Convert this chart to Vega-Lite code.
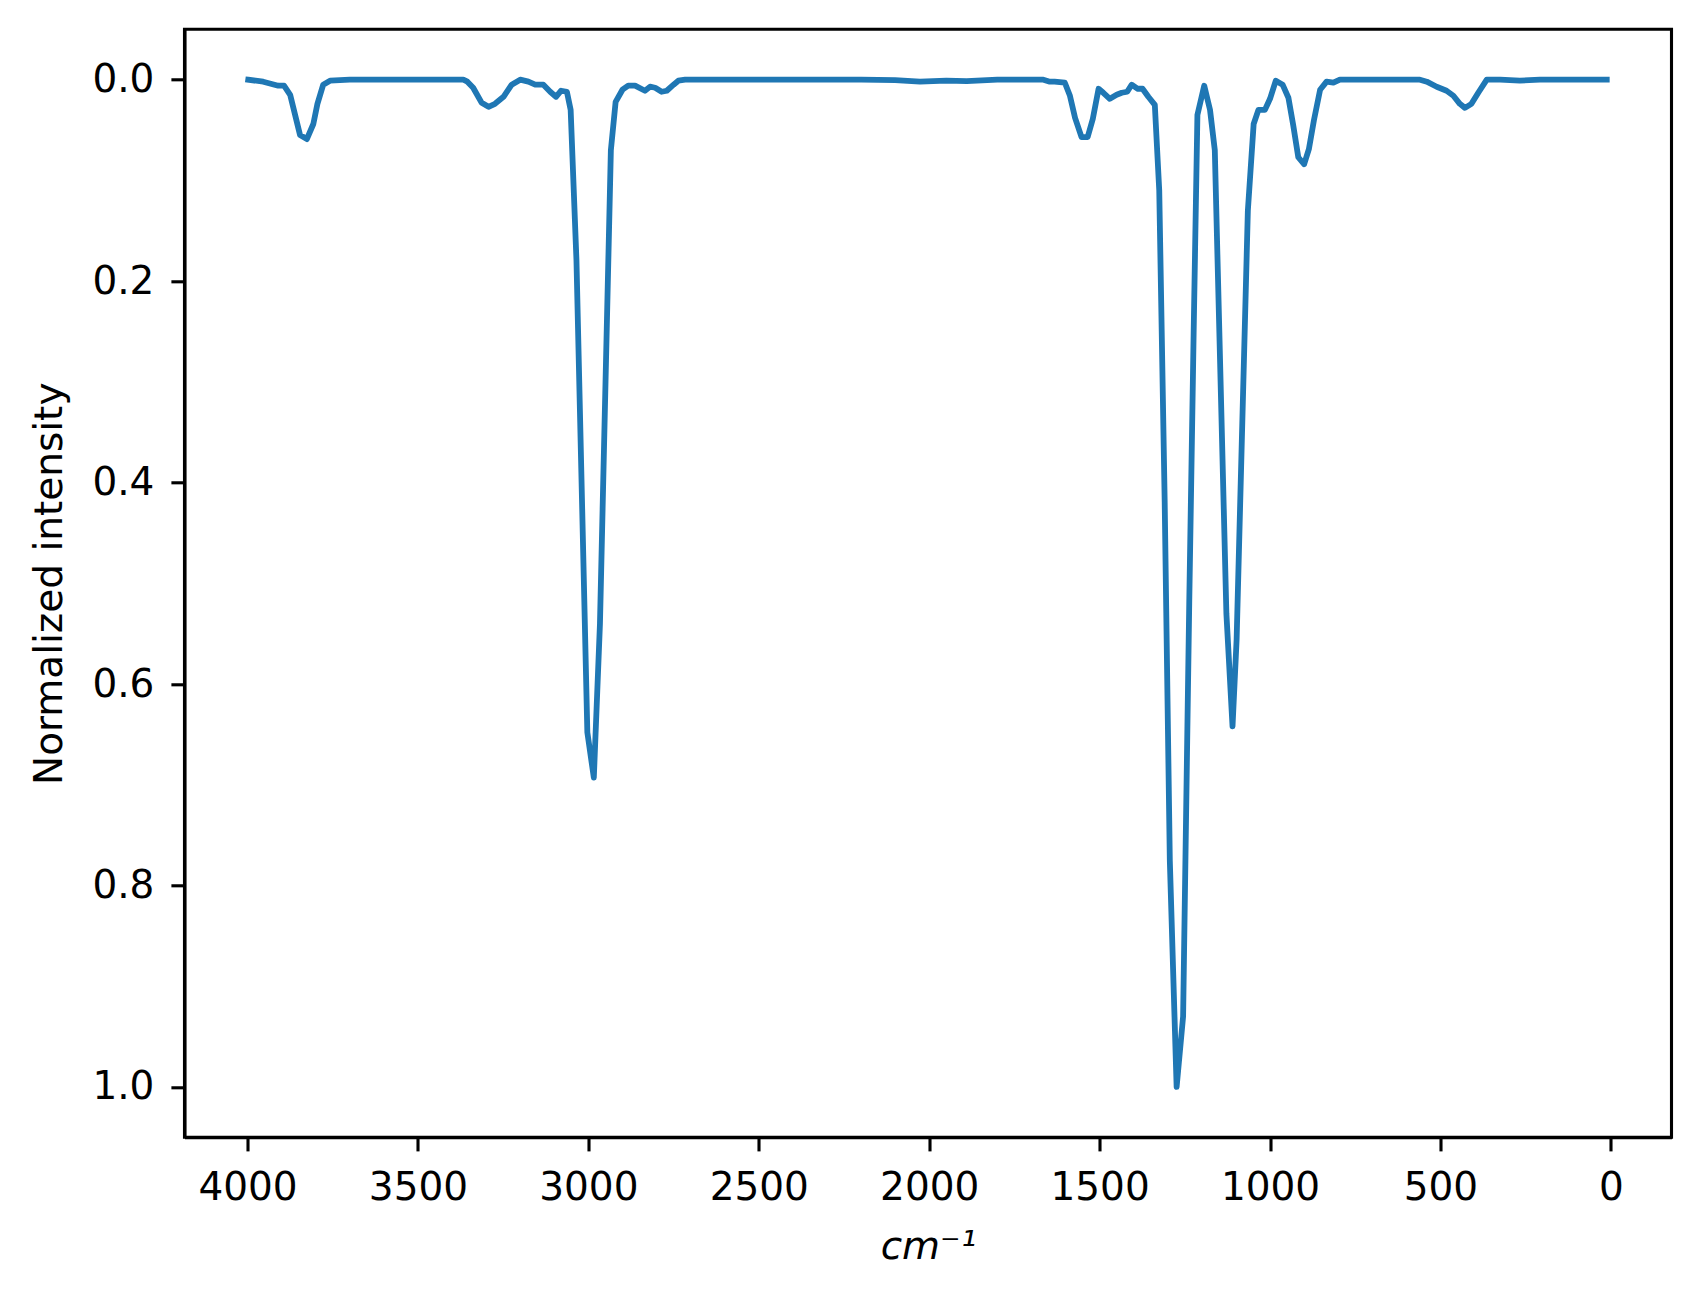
{
  "$schema": "https://vega.github.io/schema/vega-lite/v6.json",
  "autosize": {"type": "none"},
  "padding": {"left": 184.5, "top": 29.3, "right": 30, "bottom": 160},
  "width": 1487,
  "height": 1108,
  "background": "white",
  "config": {
    "view": {"stroke": "black", "strokeWidth": 3.1},
    "axis": {
      "grid": false,
      "domainColor": "black",
      "domainWidth": 3.1,
      "tickColor": "black",
      "tickWidth": 3.1,
      "tickSize": 13.6,
      "labelFont": "DejaVu Sans",
      "labelFontSize": 39,
      "labelColor": "black",
      "titleFont": "DejaVu Sans",
      "titleFontSize": 39,
      "titleFontWeight": "normal",
      "titleColor": "black"
    }
  },
  "data": {
    "values": [
      {"wn": 3998, "v": 0.000}, {"wn": 3954, "v": 0.002}, {"wn": 3910, "v": 0.006}, {"wn": 3893, "v": 0.006},
      {"wn": 3875, "v": 0.015}, {"wn": 3846, "v": 0.055}, {"wn": 3826, "v": 0.059}, {"wn": 3807, "v": 0.044},
      {"wn": 3795, "v": 0.024}, {"wn": 3778, "v": 0.005}, {"wn": 3758, "v": 0.001}, {"wn": 3700, "v": 0.000},
      {"wn": 3600, "v": 0.000}, {"wn": 3500, "v": 0.000}, {"wn": 3400, "v": 0.000}, {"wn": 3367, "v": 0.000},
      {"wn": 3355, "v": 0.002}, {"wn": 3338, "v": 0.008}, {"wn": 3313, "v": 0.023}, {"wn": 3293, "v": 0.027},
      {"wn": 3274, "v": 0.024}, {"wn": 3249, "v": 0.017}, {"wn": 3225, "v": 0.005}, {"wn": 3200, "v": 0.000},
      {"wn": 3176, "v": 0.002}, {"wn": 3156, "v": 0.005}, {"wn": 3132, "v": 0.005}, {"wn": 3112, "v": 0.012},
      {"wn": 3095, "v": 0.017}, {"wn": 3080, "v": 0.011}, {"wn": 3063, "v": 0.012}, {"wn": 3052, "v": 0.030},
      {"wn": 3035, "v": 0.179}, {"wn": 3003, "v": 0.648}, {"wn": 2984, "v": 0.693}, {"wn": 2966, "v": 0.540},
      {"wn": 2934, "v": 0.070}, {"wn": 2920, "v": 0.022}, {"wn": 2900, "v": 0.010}, {"wn": 2883, "v": 0.006},
      {"wn": 2863, "v": 0.006}, {"wn": 2834, "v": 0.011}, {"wn": 2819, "v": 0.007}, {"wn": 2804, "v": 0.008},
      {"wn": 2785, "v": 0.012}, {"wn": 2770, "v": 0.011}, {"wn": 2750, "v": 0.005}, {"wn": 2736, "v": 0.001},
      {"wn": 2716, "v": 0.000}, {"wn": 2600, "v": 0.000}, {"wn": 2400, "v": 0.000}, {"wn": 2200, "v": 0.000},
      {"wn": 2100, "v": 0.0005}, {"wn": 2027, "v": 0.002}, {"wn": 1950, "v": 0.001}, {"wn": 1890, "v": 0.0015},
      {"wn": 1800, "v": 0.000}, {"wn": 1700, "v": 0.000}, {"wn": 1665, "v": 0.000}, {"wn": 1646, "v": 0.002},
      {"wn": 1632, "v": 0.002}, {"wn": 1602, "v": 0.003}, {"wn": 1587, "v": 0.016}, {"wn": 1572, "v": 0.038},
      {"wn": 1553, "v": 0.057}, {"wn": 1535, "v": 0.057}, {"wn": 1520, "v": 0.039}, {"wn": 1503, "v": 0.009},
      {"wn": 1489, "v": 0.013}, {"wn": 1470, "v": 0.019}, {"wn": 1450, "v": 0.015}, {"wn": 1435, "v": 0.013},
      {"wn": 1419, "v": 0.012}, {"wn": 1406, "v": 0.005}, {"wn": 1389, "v": 0.009}, {"wn": 1374, "v": 0.009},
      {"wn": 1357, "v": 0.017}, {"wn": 1338, "v": 0.025}, {"wn": 1325, "v": 0.110}, {"wn": 1309, "v": 0.420},
      {"wn": 1294, "v": 0.775}, {"wn": 1274, "v": 1.000}, {"wn": 1255, "v": 0.930}, {"wn": 1237, "v": 0.520},
      {"wn": 1224, "v": 0.250}, {"wn": 1213, "v": 0.035}, {"wn": 1193, "v": 0.006}, {"wn": 1176, "v": 0.030},
      {"wn": 1162, "v": 0.070}, {"wn": 1128, "v": 0.530}, {"wn": 1110, "v": 0.642}, {"wn": 1098, "v": 0.556},
      {"wn": 1065, "v": 0.130}, {"wn": 1048, "v": 0.044}, {"wn": 1034, "v": 0.030}, {"wn": 1015, "v": 0.030},
      {"wn": 1000, "v": 0.019}, {"wn": 983, "v": 0.001}, {"wn": 963, "v": 0.005}, {"wn": 946, "v": 0.018},
      {"wn": 932, "v": 0.045}, {"wn": 917, "v": 0.077}, {"wn": 900, "v": 0.084}, {"wn": 886, "v": 0.069},
      {"wn": 871, "v": 0.040}, {"wn": 853, "v": 0.010}, {"wn": 834, "v": 0.002}, {"wn": 814, "v": 0.003},
      {"wn": 795, "v": 0.000}, {"wn": 736, "v": 0.000}, {"wn": 650, "v": 0.000}, {"wn": 560, "v": 0.000},
      {"wn": 540, "v": 0.002}, {"wn": 511, "v": 0.007}, {"wn": 482, "v": 0.011}, {"wn": 462, "v": 0.016},
      {"wn": 443, "v": 0.024}, {"wn": 428, "v": 0.028}, {"wn": 409, "v": 0.024}, {"wn": 389, "v": 0.013},
      {"wn": 364, "v": 0.000}, {"wn": 325, "v": 0.000}, {"wn": 267, "v": 0.001}, {"wn": 208, "v": 0.000},
      {"wn": 150, "v": 0.000}, {"wn": 100, "v": 0.000}, {"wn": 50, "v": 0.000}, {"wn": 12, "v": 0.000}
    ]
  },
  "mark": {"type": "line", "color": "#1f77b4", "strokeWidth": 5.8, "strokeJoin": "round", "strokeCap": "square", "clip": true},
  "encoding": {
    "x": {
      "field": "wn",
      "type": "quantitative",
      "scale": {"domain": [-178, 4185], "reverse": true, "nice": false, "zero": false},
      "axis": {
        "values": [4000, 3500, 3000, 2500, 2000, 1500, 1000, 500, 0],
        "format": "d",
        "labelPadding": 18,
        "title": "cm⁻¹",
        "titleFontStyle": "italic",
        "titleAnchor": "start",
        "titleAlign": "center",
        "titleBaseline": "alphabetic",
        "titleX": 743.5,
        "titleY": 121.7
      }
    },
    "y": {
      "field": "v",
      "type": "quantitative",
      "scale": {"domain": [-0.05, 1.05], "reverse": true, "nice": false, "zero": false},
      "axis": {
        "values": [0, 0.2, 0.4, 0.6, 0.8, 1.0],
        "format": ".1f",
        "labelPadding": 17,
        "title": "Normalized intensity",
        "titleAngle": 270,
        "titleAlign": "center",
        "titleBaseline": "alphabetic",
        "titleX": -122.8,
        "titleY": 554
      }
    }
  }
}
